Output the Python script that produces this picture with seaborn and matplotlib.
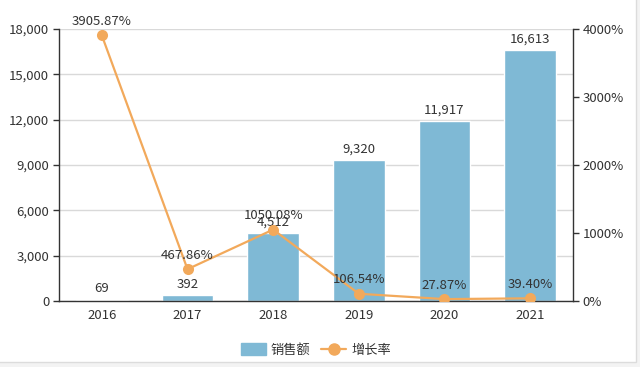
import numpy as np
import pandas as pd
import seaborn as sns
import matplotlib.pyplot as plt
from matplotlib.patches import Rectangle, Patch
from matplotlib.lines import Line2D
from matplotlib.ticker import FuncFormatter, FixedLocator

years = ['2016', '2017', '2018', '2019', '2020', '2021']
sales = [69, 392, 4512, 9320, 11917, 16613]
growth = [3905.87, 467.86, 1050.08, 106.54, 27.87, 39.40]

bar_color = '#7fb9d5'
line_color = '#f2a95b'
text_color = '#333333'

sns.set_style('white')
plt.rcParams['font.family'] = ['Noto Sans CJK SC', 'DejaVu Sans']

df = pd.DataFrame({'year': years, 'sales': sales, 'growth': growth})

fig = plt.figure(figsize=(6.4, 3.67), dpi=100, facecolor='#f3f3f3')
# white card with thin grey edge
fig.patches.append(Rectangle((-0.01, 1 - 362 / 367), 636 / 640 + 0.01, 362 / 367 + 0.01,
                             transform=fig.transFigure, facecolor='white',
                             edgecolor='#dcdcdc', linewidth=1, zorder=-1))

ax = fig.add_axes([59 / 640, 1 - 301 / 367, (573 - 59) / 640, (301 - 29) / 367])
ax.set_facecolor('none')

sns.barplot(data=df, x='year', y='sales', color=bar_color, width=0.6,
            saturation=1, ax=ax, zorder=2)
ax.set_ylim(0, 18000)
ax.set_xlim(-0.5, len(years) - 0.5)
ax.set_yticks(np.arange(0, 18001, 3000))
ax.yaxis.set_major_formatter(FuncFormatter(lambda v, p: f'{int(v):,}'))
ax.grid(axis='y', color='#d9d9d9', linewidth=1, zorder=0)
ax.set_axisbelow(True)
ax.set_xlabel('')
ax.set_ylabel('')

# ticks between categories, labels at the centres
ax.xaxis.set_minor_locator(FixedLocator(np.arange(-0.5, len(years), 1)))
ax.tick_params(axis='x', which='major', length=0, pad=6, labelsize=9.5, labelcolor=text_color)
ax.tick_params(axis='x', which='minor', length=5, width=1, color='#333333', direction='out')
ax.tick_params(axis='y', length=4, width=1, color='#333333', direction='out',
               labelsize=9.5, labelcolor=text_color, pad=3, left=True)

for s in ['top', 'right']:
    ax.spines[s].set_visible(False)
for s in ['left', 'bottom']:
    ax.spines[s].set_color('#333333')
    ax.spines[s].set_linewidth(1)

for i, v in enumerate(sales):
    ax.text(i, v + 300, f'{v:,}', ha='center', va='bottom', fontsize=9.5, color=text_color)

ax2 = ax.twinx()
sns.lineplot(x=np.arange(len(years)), y=growth, ax=ax2, color=line_color,
             linewidth=1.6, marker='o', markersize=8, markeredgewidth=0, zorder=3)
ax2.set_ylim(0, 4000)
ax2.set_yticks(np.arange(0, 4001, 1000))
ax2.yaxis.set_major_formatter(FuncFormatter(lambda v, p: f'{int(v)}%'))
ax2.tick_params(axis='y', length=4, width=1, color='#333333', direction='out',
                labelsize=9.5, labelcolor=text_color, pad=3, right=True)
for s in ['top', 'left', 'bottom']:
    ax2.spines[s].set_visible(False)
ax2.spines['right'].set_color('#333333')
ax2.spines['right'].set_linewidth(1)
ax2.grid(False)

for i, g in enumerate(growth):
    ax2.text(i, g + 110, f'{g:.2f}%', ha='center', va='bottom', fontsize=9.5, color=text_color)

handles = [Patch(facecolor=bar_color, edgecolor=bar_color),
           Line2D([0], [0], color=line_color, marker='o', markersize=8, linewidth=1.6)]
fig.legend(handles, ['销售额', '增长率'], loc='center', bbox_to_anchor=(316 / 640, 1 - 350 / 367),
           ncol=2, frameon=False, fontsize=9.5, handlelength=1.9, handleheight=1.0,
           columnspacing=0.8, handletextpad=0.4, labelcolor=text_color)

fig.savefig('out.png', dpi=100, facecolor=fig.get_facecolor())
